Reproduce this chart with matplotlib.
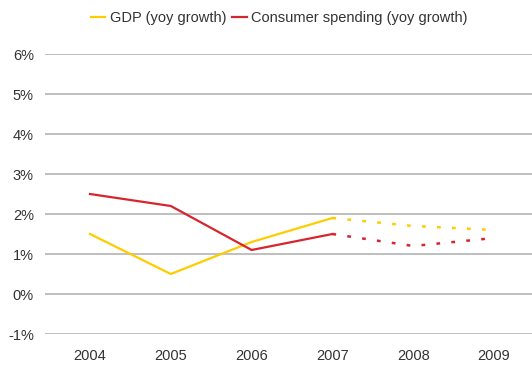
import matplotlib.pyplot as plt
from matplotlib.ticker import FuncFormatter

# Year-on-year growth, actuals to 2007 then forecast
years = ['2004', '2005', '2006', '2007', '2008', '2009']
gdp = [1.5, 0.5, 1.3, 1.9, 1.7, 1.6]
consumer = [2.5, 2.2, 1.1, 1.5, 1.2, 1.4]
last_actual = 3  # index of 2007

yellow = '#FFCC00'
red = '#D7252F'
text_col = '#333333'

plt.rcParams['font.family'] = ['Liberation Sans', 'DejaVu Sans']

fig = plt.figure(figsize=(5.32, 3.65), dpi=100)
ax = fig.add_axes([45 / 532, 31 / 365, 487 / 532, 280 / 365])

x = list(range(len(years)))
for vals, col, name in [(gdp, yellow, 'GDP (yoy growth)'),
                        (consumer, red, 'Consumer spending (yoy growth)')]:
    ax.plot(x[:last_actual + 1], vals[:last_actual + 1], color=col, lw=1.6, label=name)
    ax.plot(x[last_actual:], vals[last_actual:], color=col, lw=1.8,
            linestyle=(0, (1.5, 4.5)), dash_capstyle='butt')

ax.set_ylim(-1, 6)
ax.set_yticks(range(-1, 7))
ax.yaxis.set_major_formatter(FuncFormatter(lambda v, p: f'{int(v)}%'))
ax.set_xlim(-0.557, 5.47)
ax.set_xticks(x)
ax.set_xticklabels(years)

ax.grid(axis='y', color='#BFBFBF', lw=1.4)
ax.set_axisbelow(True)
for s in ax.spines.values():
    s.set_visible(False)
ax.tick_params(length=0, labelsize=10.5, colors=text_col)
ax.tick_params(axis='y', pad=8)
ax.tick_params(axis='x', pad=11)

fig.legend(loc='center', bbox_to_anchor=(279 / 532, 1 - 18 / 365), ncol=2,
           frameon=False, fontsize=10.5, handlelength=1.0, handletextpad=0.3,
           columnspacing=0.4, labelcolor=text_col)

fig.savefig('out.png', dpi=100)
